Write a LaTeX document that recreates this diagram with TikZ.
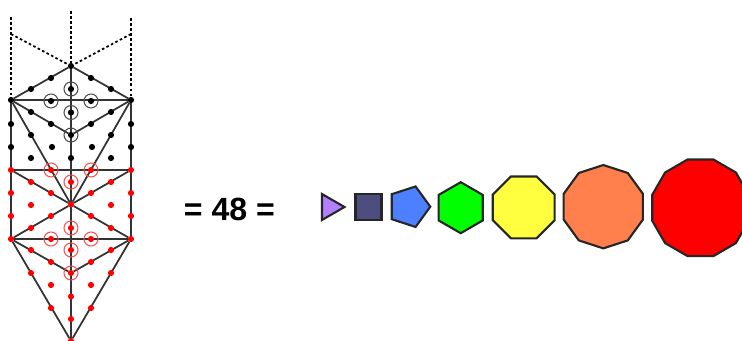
\documentclass[tikz,border=0pt]{standalone}
\usepackage{fontspec}
\setsansfont{Liberation Sans}
\usepackage{xcolor}
\usetikzlibrary{shapes.geometric,backgrounds}
\definecolor{red}{RGB}{255,0,0}
\definecolor{triviolet}{RGB}{178,128,255}
\definecolor{squareblue}{RGB}{77,77,128}
\definecolor{pentblue}{RGB}{77,128,255}
\definecolor{hexgreen}{RGB}{0,255,0}
\definecolor{octyellow}{RGB}{255,255,64}
\definecolor{decorange}{RGB}{255,128,77}
\tikzset{
	dotk/.style={circle,fill=black,inner sep=0pt,outer sep=0pt,minimum size=0.185cm},
	dotr/.style={circle,fill=red,inner sep=0pt,outer sep=0pt,minimum size=0.185cm},
	ringk/.style={circle,draw=black!70,line width=0.85pt,inner sep=0pt,minimum size=0.42cm},
	ringr/.style={circle,draw=red!70,line width=0.85pt,inner sep=0pt,minimum size=0.42cm},
	edge/.style={line width=1.5pt,black!80},
	dashedge/.style={line width=1.5pt,dashed,dash pattern=on 2.2pt off 2.1pt},
	poly/.style={regular polygon,draw=black!85,line width=1.8pt,inner sep=0pt,outer sep=0pt},
	eqlabel/.style={font=\sffamily\bfseries\fontsize{27.4}{30}\selectfont,inner sep=0pt}
}

\begin{document}
\begin{tikzpicture}[x=0.03cm,y=-0.03cm]
	\useasboundingbox (0,0) rectangle (742,341);

	% ===================== upper part =====================
	\path
	(71,66) node[dotk] (top) {}
	(11,100) node[dotk] (k_l) {}
	(131,100) node[dotk] (k_r) {}
	(51,78) node[dotk] (k1) {}
	(31,89) node[dotk] (k2) {}
	(91,78) node[dotk] (k3) {}
	(111,89) node[dotk] (k4) {}
	(71,89) node[dotk] (k5) {}
	(51,101) node[dotk] (k6) {}
	(91,101) node[dotk] (k7) {}
	(71,112.5) node[dotk] (k8) {}
	(71,135) node[dotk] (k_m) {}
	(31,112) node[dotk] (k9) {}
	(51,124) node[dotk] (k10) {}
	(111,112) node[dotk] (k11) {}
	(91,124) node[dotk] (k12) {}
	(31,135) node[dotk] (k13) {}
	(111,135) node[dotk] (k14) {}
	(11,124) node[dotk] (k15) {}
	(131,124) node[dotk] (k16) {}
	(11,147) node[dotk] (k17) {}
	(131,147) node[dotk] (k18) {}
	(52,147) node[dotk] (k19) {}
	(92,147) node[dotk] (k20) {}
	(31,158) node[dotk] (k21) {}
	(111,158) node[dotk] (k22) {}
	(71,158) node[dotk] (k23) {};

	% rings
	\node[ringk] (rk1) at (k5) {};
	\node[ringk] (rk2) at (k6) {};
	\node[ringk] (rk3) at (k7) {};
	\node[ringk] (rk4) at (k8) {};
	\node[ringk] (rk5) at (k_m) {};

	% ===================== lower part =====================
	\path
	(11,170) node[dotr] (r_a) {}
	(131,170) node[dotr] (r_b) {}
	(71,204.5) node[dotr] (hub) {}
	(11,239) node[dotr] (r_l) {}
	(131,239) node[dotr] (r_r) {}
	(71,341) node[dotr] (bot) {}
	(71,273) node[dotr] (r_m) {}
	(51,170) node[dotr] (r1) {}
	(91,170) node[dotr] (r2) {}
	(71,182) node[dotr] (r3) {}
	(31,182) node[dotr] (r4) {}
	(51,193) node[dotr] (r5) {}
	(111,182) node[dotr] (r6) {}
	(91,193) node[dotr] (r7) {}
	(11,193) node[dotr] (r8) {}
	(131,193) node[dotr] (r9) {}
	(31,205) node[dotr] (r10) {}
	(111,205) node[dotr] (r11) {}
	(11,216) node[dotr] (r12) {}
	(131,216) node[dotr] (r13) {}
	(51,216) node[dotr] (r14) {}
	(91,216) node[dotr] (r15) {}
	(31,228) node[dotr] (r16) {}
	(111,228) node[dotr] (r17) {}
	(71,228) node[dotr] (r18) {}
	(51,239) node[dotr] (r19) {}
	(91,239) node[dotr] (r20) {}
	(71,250) node[dotr] (r21) {}
	(31,250) node[dotr] (r22) {}
	(111,250) node[dotr] (r23) {}
	(51,262) node[dotr] (r24) {}
	(91,262) node[dotr] (r25) {}
	(31,273) node[dotr] (r26) {}
	(111,273) node[dotr] (r27) {}
	(51,285) node[dotr] (r28) {}
	(91,285) node[dotr] (r29) {}
	(71,296.5) node[dotr] (r30) {}
	(51,308) node[dotr] (r31) {}
	(91,308) node[dotr] (r32) {}
	(71,319) node[dotr] (r33) {};

	% rings
	\node[ringr] (rr1) at (r1) {};
	\node[ringr] (rr2) at (r2) {};
	\node[ringr] (rr3) at (r3) {};
	\node[ringr] (rr4) at (r18) {};
	\node[ringr] (rr5) at (r19) {};
	\node[ringr] (rr6) at (r20) {};
	\node[ringr] (rr7) at (r21) {};
	\node[ringr] (rr8) at (r_m) {};

	% dashed top
	\path
	(11,17) coordinate (d_l)
	(71,11) coordinate (d_m)
	(131,18) coordinate (d_r)
	(11,34) coordinate (d_a)
	(131,34) coordinate (d_b);

	\begin{scope}[on background layer]
		\draw[dashedge] (d_l) -- (k_l);
		\draw[dashedge] (d_m) -- (top);
		\draw[dashedge] (d_r) -- (k_r);
		\draw[dashedge] (d_a) -- (top);
		\draw[dashedge] (d_b) -- (top);

		% solid lines
		\draw[edge] (k_l) -- (top) -- (k_r);
		\draw[edge] (k_l) -- (k_r);
		\draw[edge] (k_l) -- (k_m) -- (k_r);
		\draw[edge] (top) -- (bot);
		\draw[edge] (k_l) -- (r_l);
		\draw[edge] (k_r) -- (r_r);
		\draw[edge] (k_l) -- (hub) -- (k_r);
		\draw[edge] (r_a) -- (r_b);
		\draw[edge] (r_a) -- (hub) -- (r_b);
		\draw[edge] (r_l) -- (hub) -- (r_r);
		\draw[edge] (r_l) -- (r_r);
		\draw[edge] (r_l) -- (r_m) -- (r_r);
		\draw[edge] (r_l) -- (bot) -- (r_r);
	\end{scope}

	% text
	\node[eqlabel] (eq) at (229.5,209) {= 48 =};

	% polygons
	\node[poly,regular polygon sides=3,shape border rotate=-90,fill=triviolet,minimum size=0.9cm] (p3) at (329.5,207) {};
	\node[poly,regular polygon sides=4,fill=squareblue,minimum size=1.104cm] (p4) at (368.5,207) {};
	\node[poly,regular polygon sides=5,shape border rotate=-90,fill=pentblue,minimum size=1.278cm] (p5) at (409,206.7) {};
	\node[poly,regular polygon sides=6,shape border rotate=30,fill=hexgreen,minimum size=1.53cm] (p6) at (460.7,207.7) {};
	\node[poly,regular polygon sides=8,fill=octyellow,minimum size=2.01cm] (p8) at (523.7,207.4) {};
	\node[poly,regular polygon sides=10,shape border rotate=18,fill=decorange,minimum size=2.5cm] (p10) at (603.3,206.7) {};
	\node[poly,regular polygon sides=12,fill=red,minimum size=3cm] (p12) at (700.5,207.8) {};
\end{tikzpicture}
\end{document}
